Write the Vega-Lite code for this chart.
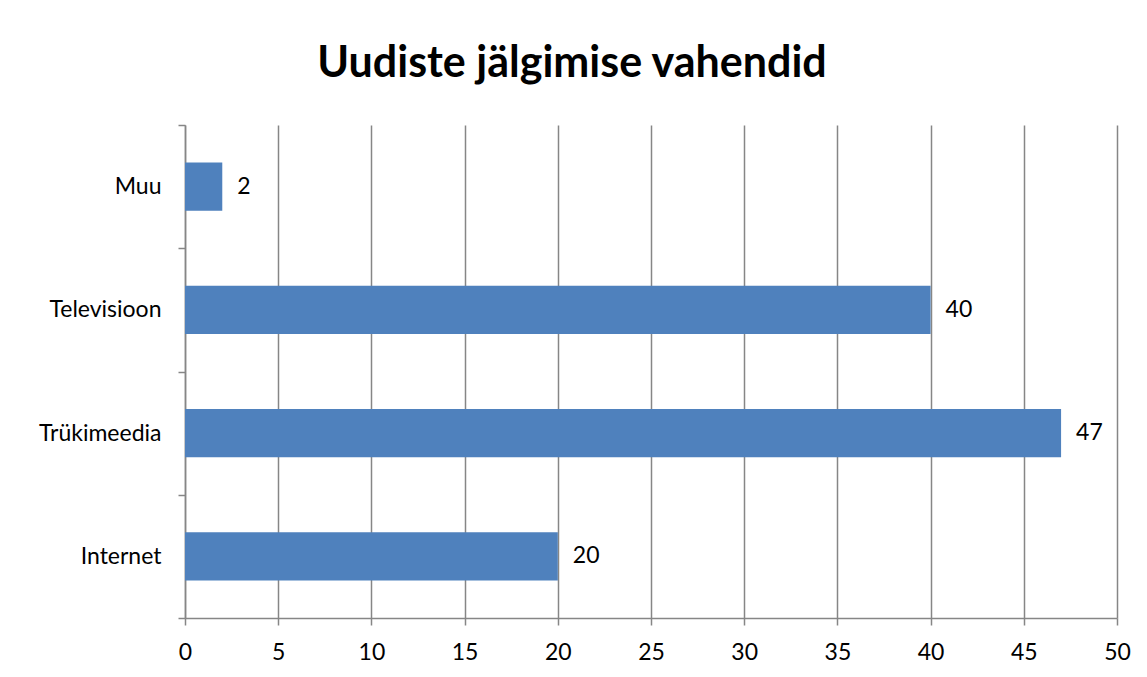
{
  "$schema": "https://vega.github.io/schema/vega-lite/v6.json",
  "autosize": {"type": "none"},
  "width": 932,
  "height": 493,
  "padding": {"left": 185, "top": 125, "right": 30, "bottom": 59},
  "background": "white",
  "title": {
    "text": "Uudiste jälgimise vahendid",
    "font": "Lato",
    "fontSize": 43,
    "fontWeight": "bold",
    "color": "black",
    "anchor": "middle",
    "dx": -79,
    "offset": 28
  },
  "data": {
    "values": [
      {"kanal": "Muu", "vaartus": 2},
      {"kanal": "Televisioon", "vaartus": 40},
      {"kanal": "Trükimeedia", "vaartus": 47},
      {"kanal": "Internet", "vaartus": 20}
    ]
  },
  "encoding": {
    "y": {
      "field": "kanal",
      "type": "nominal",
      "sort": ["Muu", "Televisioon", "Trükimeedia", "Internet"],
      "scale": {"paddingInner": 0, "paddingOuter": 0},
      "axis": {
        "title": null,
        "tickBand": "extent",
        "tickSize": 7,
        "tickColor": "#868686",
        "tickWidth": 1.5,
        "domainColor": "#868686",
        "domainWidth": 1.5,
        "labelFont": "Lato",
        "labelFontSize": 23,
        "labelColor": "black",
        "labelPadding": 17,
        "grid": false
      }
    },
    "x": {
      "field": "vaartus",
      "type": "quantitative",
      "scale": {"domain": [0, 50], "nice": false},
      "axis": {
        "title": null,
        "values": [0, 5, 10, 15, 20, 25, 30, 35, 40, 45, 50],
        "tickSize": 7,
        "tickColor": "#868686",
        "tickWidth": 1.5,
        "domainColor": "#868686",
        "domainWidth": 1.5,
        "gridColor": "#868686",
        "gridWidth": 1.5,
        "gridOpacity": 1,
        "labelFont": "Lato",
        "labelFontSize": 23,
        "labelColor": "black",
        "labelPadding": 16,
        "labelFlush": false
      }
    }
  },
  "layer": [
    {"mark": {"type": "bar", "color": "#4F81BD", "height": {"band": 0.39}}},
    {
      "mark": {"type": "text", "align": "left", "baseline": "middle", "dx": 15, "font": "Lato", "fontSize": 23, "color": "black"},
      "encoding": {"text": {"field": "vaartus", "type": "quantitative"}}
    }
  ],
  "config": {"view": {"stroke": null}}
}
